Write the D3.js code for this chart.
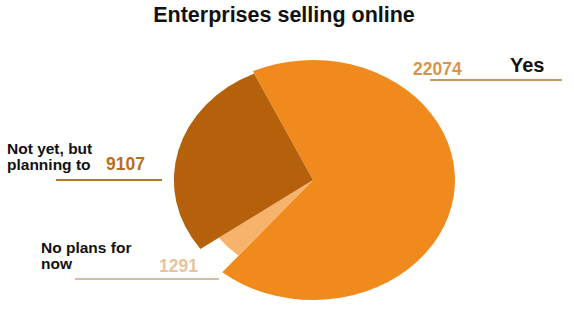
<!DOCTYPE html>
<html lang="en">
<head>
    <title>Enterprises selling online</title>
    <script src="https://d3js.org/d3.v7.min.js"></script>
    <style>
        body { margin: 0; background: #fff; }
        text { font-family: "Liberation Sans", Arial, sans-serif; font-weight: bold; }
    </style>
</head>
<body>
    <div id="chart"></div>
    <script>

        // data (clockwise order from the top)
        const categories = ["Yes", "No plans for now", "Not yet, but planning to"];
        const values = [22074, 1291, 9107];

        const width = 574, height = 310;

        // colours and radius factor per slice
        const colors = ["#F08A1C", "#F7B26C", "#B5600A"];
        const radiusFactor = [1, 0.82, 0.98];

        const svg = d3.select("#chart")
            .append("svg")
            .attr("width", width)
            .attr("height", height);

        svg.append("text")
            .attr("x", 284)
            .attr("y", 22)
            .attr("text-anchor", "middle")
            .style("font-size", "21.5px")
            .style("fill", "#111")
            .text("Enterprises selling online");

        const pie = d3.pie()
            .sort(null)
            .startAngle(-25 * Math.PI / 180)
            .endAngle(335 * Math.PI / 180);

        const r = 120;
        const arc = d3.arc().innerRadius(0);

        // the pie is drawn a bit wider than tall, as in the picture
        const g = svg.append("g")
            .attr("transform", "translate(313,180) scale(1.183,1)");

        g.selectAll("path")
            .data(pie(values))
            .enter()
                .append("path")
                .attr("d", (d, i) => arc.outerRadius(r * radiusFactor[i])(d))
                .style("fill", (d, i) => colors[i]);

        // labels: value, lines of text and the rule under each
        const labels = [
            { lines: ["Yes"], tx: 510, ty: 72, size: 20, num: [413, 75], rule: [430, 562, 80], numColor: "#D8934A", ruleColor: "#C9975E" },
            { lines: ["No plans for", "now"], tx: 41, ty: 253, size: 15.5, num: [159, 272], rule: [75, 219, 279], numColor: "#E8C29C", ruleColor: "#D4BFA5" },
            { lines: ["Not yet, but", "planning to"], tx: 7, ty: 154, size: 15.5, num: [106, 170], rule: [56, 162, 180], numColor: "#B86E1F", ruleColor: "#B0782A" }
        ];

        labels.forEach((l, i) => {
            l.lines.forEach((line, k) => {
                svg.append("text")
                    .attr("x", l.tx)
                    .attr("y", l.ty + k * 16)
                    .style("font-size", l.size + "px")
                    .style("fill", "#111")
                    .text(line);
            });
            svg.append("text")
                .attr("x", l.num[0])
                .attr("y", l.num[1])
                .style("font-size", "17.5px")
                .style("fill", l.numColor)
                .text(values[i]);
            svg.append("line")
                .attr("x1", l.rule[0])
                .attr("x2", l.rule[1])
                .attr("y1", l.rule[2])
                .attr("y2", l.rule[2])
                .style("stroke", l.ruleColor)
                .style("stroke-width", 2);
        });

    </script>
</body>
</html>
